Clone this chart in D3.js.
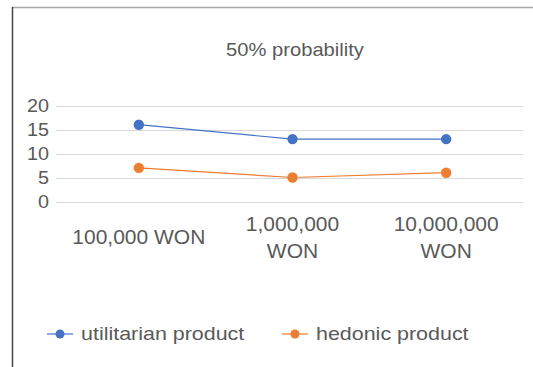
<!DOCTYPE html>
<html>
<head>
<meta charset="utf-8">
<script src="https://cdn.jsdelivr.net/npm/d3@7"></script>
<style>
  html, body { margin: 0; padding: 0; background: #fff; }
  svg { display: block; }
  text { font-family: "Liberation Sans", Arial, sans-serif; fill: #595959; }
</style>
</head>
<body>
<script>
// Chart data
const categories = ["100,000 WON", "1,000,000 WON", "10,000,000 WON"];
const categoryLines = [["100,000 WON"], ["1,000,000", "WON"], ["10,000,000", "WON"]];
const utilitarian = [16, 13, 13];
const hedonic = [7, 5, 6];
const yTicks = [0, 5, 10, 15, 20];
const seriesNames = ["utilitarian product", "hedonic product"];
const seriesColors = ["#4472C4", "#ED7D31"];
const titleText = "50% probability";

const W = 533, H = 367;
const svg = d3.select("body").append("svg").attr("width", W).attr("height", H);

// outer frame (top and left edges visible)
svg.append("line").attr("x1", 12).attr("x2", W).attr("y1", 7.5).attr("y2", 7.5)
  .attr("stroke", "#a8a8a8").attr("stroke-width", 1.5);
svg.append("line").attr("x1", 12.5).attr("x2", 12.5).attr("y1", 7).attr("y2", H)
  .attr("stroke", "#444").attr("stroke-width", 1.5);

const x = d3.scaleBand().domain(categories).range([62, 523]);
const y = d3.scaleLinear().domain([0, 20]).range([201.5, 105.5]);

// title
svg.append("text").attr("transform", "translate(295,56) scale(1.12,1)")
  .attr("text-anchor", "middle").attr("font-size", 18).text(titleText);

// gridlines
svg.append("g").selectAll("line").data(yTicks).join("line")
  .attr("x1", 56).attr("x2", 523)
  .attr("y1", d => Math.round(y(d)) + 0.5).attr("y2", d => Math.round(y(d)) + 0.5)
  .attr("stroke", "#d9d9d9").attr("stroke-width", 1);

// y axis labels
const yAxis = svg.append("g").attr("transform", "translate(50,0)")
  .call(d3.axisLeft(y).tickValues(yTicks).tickSize(0).tickPadding(0));
yAxis.select(".domain").remove();
yAxis.selectAll("text")
  .attr("font-family", "'Liberation Sans', Arial, sans-serif")
  .attr("font-size", 18).attr("fill", "#595959")
  .attr("transform", "scale(1.1,1)").attr("x", -1).attr("dy", "0.36em");

// x category labels
const xl = svg.append("g").selectAll("g").data(categories).join("g")
  .attr("transform", d => `translate(${x(d) + x.bandwidth() / 2},0)`);
xl.each(function (d, i) {
  const lines = categoryLines[i];
  const lh = 27;
  const mid = 237;
  lines.forEach((t, j) => {
    const cy = mid + (j - (lines.length - 1) / 2) * lh;
    d3.select(this).append("text")
      .attr("transform", `translate(0,${cy}) scale(1.05,1)`)
      .attr("text-anchor", "middle").attr("dy", "0.36em")
      .attr("font-size", 20).text(t);
  });
});

// series lines and markers
const series = [utilitarian, hedonic];
const line = d3.line().x((d, i) => x(categories[i]) + x.bandwidth() / 2).y(d => y(d));
series.forEach((vals, s) => {
  svg.append("path").datum(vals).attr("d", line)
    .attr("fill", "none").attr("stroke", seriesColors[s]).attr("stroke-width", 1.2);
  svg.append("g").selectAll("circle").data(vals).join("circle")
    .attr("cx", (d, i) => x(categories[i]) + x.bandwidth() / 2)
    .attr("cy", d => y(d)).attr("r", 5.2).attr("fill", seriesColors[s]);
});

// legend
const legendX = [47, 282];
const lg = svg.append("g").selectAll("g").data(seriesNames).join("g")
  .attr("transform", (d, i) => `translate(${legendX[i]},334)`);
lg.append("line").attr("x1", 0).attr("x2", 26).attr("y1", 0).attr("y2", 0)
  .attr("stroke", (d, i) => seriesColors[i]).attr("stroke-width", 1.2);
lg.append("circle").attr("cx", 13).attr("cy", 0).attr("r", 4.5)
  .attr("fill", (d, i) => seriesColors[i]);
lg.append("text").attr("transform", "translate(34,0) scale(1.16,1)")
  .attr("dy", "0.32em").attr("font-size", 18.5).text(d => d);
</script>
</body>
</html>
